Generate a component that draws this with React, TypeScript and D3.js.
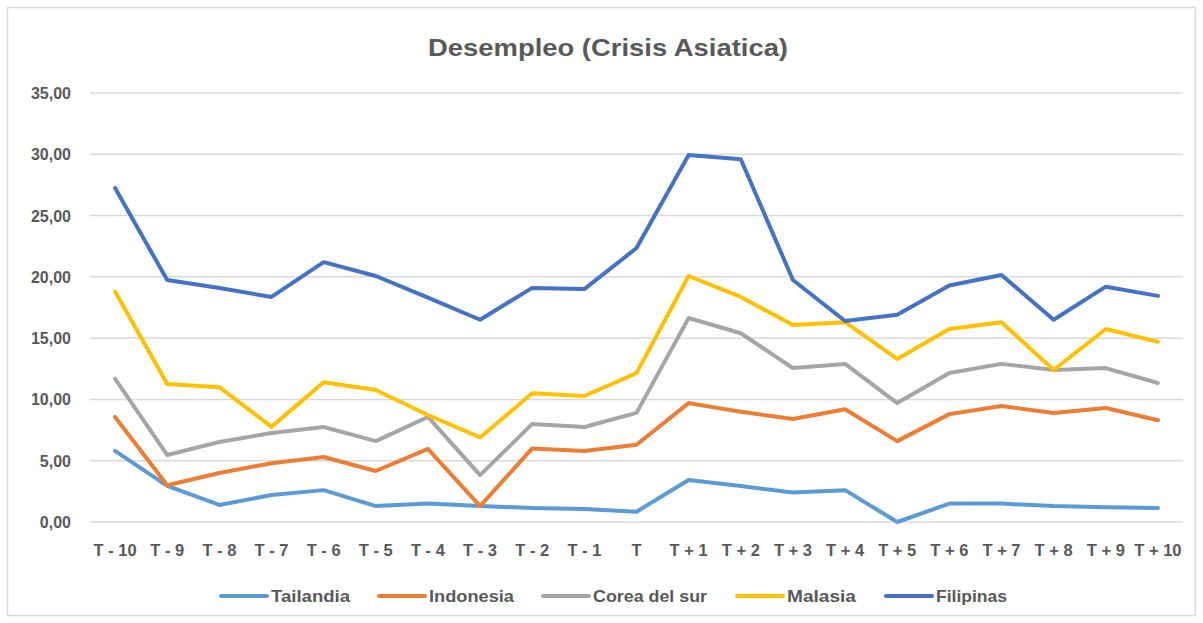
import React from "react";
import * as d3 from "d3";

const categories = ["T - 10","T - 9","T - 8","T - 7","T - 6","T - 5","T - 4","T - 3","T - 2","T - 1","T","T + 1","T + 2","T + 3","T + 4","T + 5","T + 6","T + 7","T + 8","T + 9","T + 10"];
const seriesNames = ["Tailandia","Indonesia","Corea del sur","Malasia","Filipinas"];
const tailandia = [5.8,2.94,1.39,2.2,2.6,1.3,1.5,1.3,1.14,1.06,0.84,3.43,2.94,2.4,2.6,0.0,1.5,1.5,1.3,1.2,1.14];
const indonesia = [8.57,3.0,4.0,4.8,5.3,4.16,5.96,1.3,6.0,5.8,6.3,9.7,9.0,8.4,9.2,6.6,8.8,9.46,8.9,9.3,8.3];
const corea = [11.67,5.47,6.53,7.26,7.75,6.6,8.57,3.83,8.0,7.75,8.9,16.64,15.4,12.56,12.9,9.7,12.15,12.9,12.4,12.56,11.34];
const malasia = [18.8,11.26,11.0,7.76,11.4,10.77,8.73,6.9,10.5,10.28,12.15,20.07,18.36,16.07,16.3,13.3,15.75,16.3,12.4,15.75,14.7];
const filipinas = [27.25,19.74,19.09,18.36,21.2,20.07,18.3,16.5,19.1,19.0,22.35,29.94,29.6,19.74,16.4,16.9,19.3,20.15,16.5,19.2,18.45];
const yTicks = [0,5,10,15,20,25,30,35];
const colors = ["#5B9BD5","#ED7D31","#A5A5A5","#FFC000","#4472C4"];

const W = 1203, H = 623;
const plot = { left: 89, right: 1184, top: 93, bottom: 522 };
const legendLineX = [221, 379, 543, 737, 886];
const legendTextLen = [79, 85, 114, 69, 71];

export default function App() {
  const allSeries = [tailandia, indonesia, corea, malasia, filipinas];
  const x = d3.scaleBand<string>().domain(categories).range([plot.left, plot.right]).padding(0);
  const y = d3.scaleLinear().domain([0, 35]).range([plot.bottom, plot.top]);
  const cx = (c: string) => (x(c) as number) + x.bandwidth() / 2;
  const line = d3.line<number>().x((_, i) => cx(categories[i])).y((v) => y(v));
  const fmt = (v: number) => v.toFixed(2).replace(".", ",");
  const txt = "#595959";
  return (
    <svg width={W} height={H} style={{ position: "absolute", left: 0, top: 0, background: "#fff" }}>
      <rect x={7.5} y={7.5} width={1188} height={608} fill="#fff" stroke="#d9d9d9" strokeWidth={1.5} />
      <text x={608} y={56} textAnchor="middle" fontFamily="Liberation Sans, Arial, sans-serif" fontWeight="bold" fontSize={24} fill={txt} textLength={360} lengthAdjust="spacingAndGlyphs">Desempleo (Crisis Asiatica)</text>
      {yTicks.map((t) => (
        <g key={t}>
          <line x1={plot.left + 1} x2={plot.right - 1} y1={y(t)} y2={y(t)} stroke="#d9d9d9" strokeWidth={1.5} />
          <text x={71} y={y(t) + 6} textAnchor="end" fontFamily="Liberation Sans, Arial, sans-serif" fontWeight="bold" fontSize={16} fill={txt}>{fmt(t)}</text>
        </g>
      ))}
      {categories.map((c) => (
        <text key={c} x={cx(c)} y={556} textAnchor="middle" fontFamily="Liberation Sans, Arial, sans-serif" fontWeight="bold" fontSize={16.5} fill={txt}>{c}</text>
      ))}
      {allSeries.map((s, i) => (
        <path key={seriesNames[i]} d={line(s) as string} fill="none" stroke={colors[i]} strokeWidth={4} strokeLinejoin="round" strokeLinecap="round" />
      ))}
      {seriesNames.map((n, i) => (
        <g key={n}>
          <line x1={legendLineX[i]} x2={legendLineX[i] + 46} y1={596} y2={596} stroke={colors[i]} strokeWidth={4} strokeLinecap="round" />
          <text x={legendLineX[i] + 50} y={602} fontFamily="Liberation Sans, Arial, sans-serif" fontWeight="bold" fontSize={16.5} fill={txt} textLength={legendTextLen[i]} lengthAdjust="spacingAndGlyphs">{n}</text>
        </g>
      ))}
    </svg>
  );
}
